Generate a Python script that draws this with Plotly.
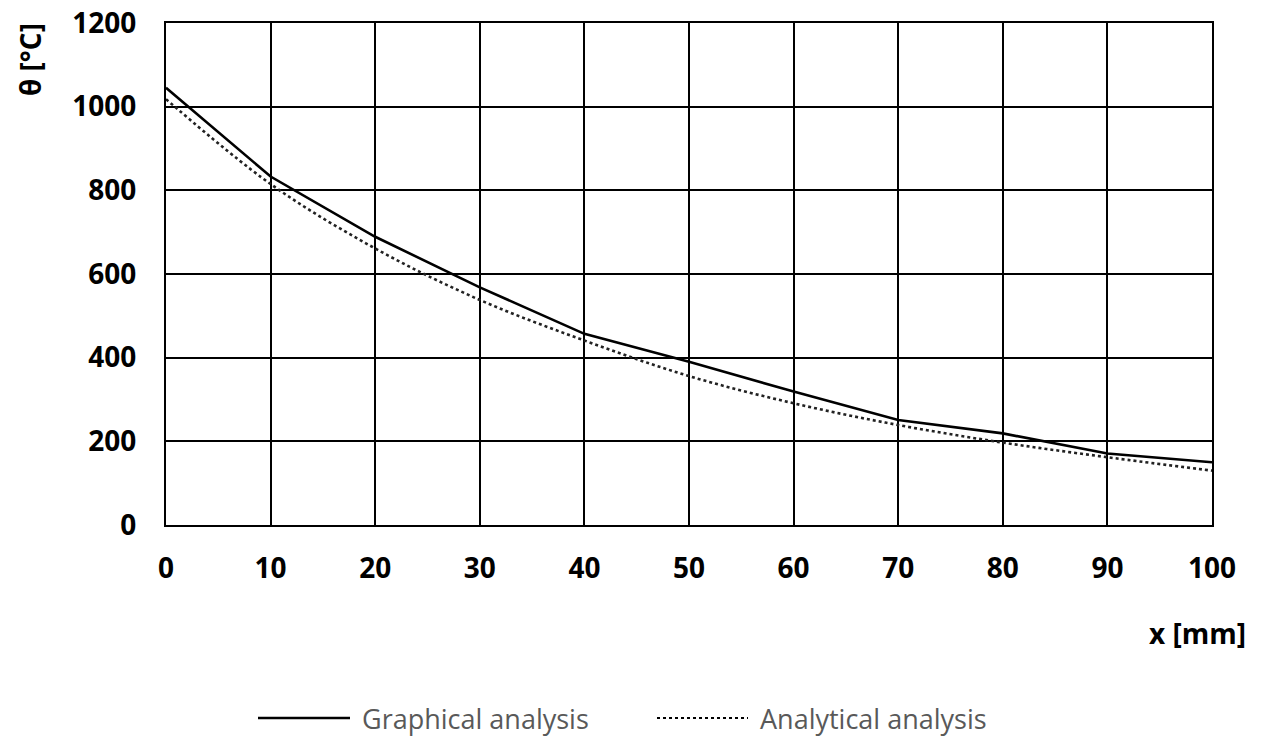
import plotly.graph_objects as go

# Distance from heated surface [mm]
x_mm = [0, 10, 20, 30, 40, 50, 60, 70, 80, 90, 100]
# Temperature profiles [°C]
graphical = [1045, 833, 689, 568, 457, 390, 319, 251, 219, 171, 150]
analytical = [1018, 815, 661, 538, 441, 356, 291, 239, 197, 162, 130]

series_names = ["Graphical analysis", "Analytical analysis"]
y_ticks = [0, 200, 400, 600, 800, 1000, 1200]
x_ticks = [0, 10, 20, 30, 40, 50, 60, 70, 80, 90, 100]

FONT = "Open Sans"
W, H = 1262, 737
L, R, T, B = 166, 50, 23, 212
pw, ph = W - L - R, H - T - B


def px_to_paper(px, py):
    return (px - L) / pw, (H - B - py) / ph


fig = go.Figure()
fig.add_trace(go.Scatter(x=x_mm, y=graphical, mode="lines", name=series_names[0],
                         line=dict(color="black", width=2.6)))
fig.add_trace(go.Scatter(x=x_mm, y=analytical, mode="lines", name=series_names[1],
                         line=dict(color="#222222", width=2.6, dash="dot", shape="spline")))

axis_common = dict(showgrid=True, gridcolor="black", gridwidth=2.4,
                   showline=True, linecolor="black", linewidth=2.4, mirror=True,
                   zeroline=False, ticks="", automargin=False,
                   tickfont=dict(family=FONT, size=28, color="black", weight="bold"))

fig.update_xaxes(range=[0, 100], tickvals=x_ticks, ticklabelstandoff=17, **axis_common)
fig.update_yaxes(range=[0, 1200], tickvals=y_ticks, ticklabelstandoff=22, **axis_common)

annotations = []
# axis titles
ax, ay = px_to_paper(30, 60)
annotations.append(dict(x=ax, y=ay, xref="paper", yref="paper", text="θ [°C]", textangle=-90,
                        showarrow=False, xanchor="center", yanchor="middle",
                        font=dict(family=FONT, size=28, color="black", weight="bold")))
bx, by = px_to_paper(1197, 633)
annotations.append(dict(x=bx, y=by, xref="paper", yref="paper", text="x [mm]",
                        showarrow=False, xanchor="center", yanchor="middle",
                        font=dict(family=FONT, size=28, color="black", weight="bold")))

# legend drawn below the plot
shapes = []
legend_items = [(258, 350, 360, "solid"), (657, 748, 758, "dot")]
for name, (x0, x1, xt, dash) in zip(series_names, legend_items):
    p0 = px_to_paper(x0, 718)
    p1 = px_to_paper(x1, 718)
    shapes.append(dict(type="line", xref="paper", yref="paper", x0=p0[0], x1=p1[0],
                       y0=p0[1], y1=p1[1],
                       line=dict(color="black", width=2.6 if dash == "solid" else 1.8, dash=dash)))
    pt = px_to_paper(xt, 718)
    annotations.append(dict(x=pt[0], y=pt[1], xref="paper", yref="paper", text=name,
                            showarrow=False, xanchor="left", yanchor="middle",
                            font=dict(family=FONT, size=27, color="#595959")))

fig.update_layout(width=W, height=H, margin=dict(l=L, r=R, t=T, b=B),
                  paper_bgcolor="white", plot_bgcolor="white", showlegend=False,
                  annotations=annotations, shapes=shapes)

fig.write_html("out.html")
